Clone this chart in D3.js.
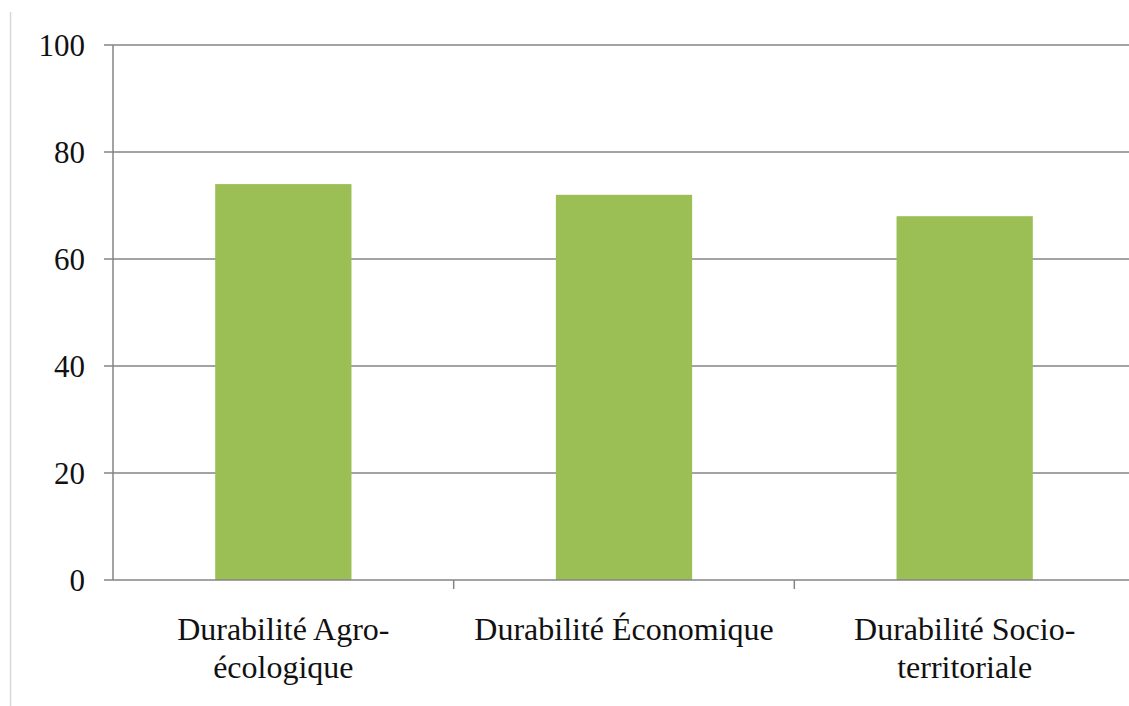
<!DOCTYPE html>
<html>
<head>
<meta charset="utf-8">
<script src="https://cdn.jsdelivr.net/npm/d3@7"></script>
<style>
  body { margin: 0; background: #fff; }
  svg { display: block; }
  svg text { font-family: "Times New Roman", "Liberation Serif", Times, "DejaVu Serif", serif; fill: #111; }
</style>
</head>
<body>
<div id="chart"></div>
<script>
// data
var categories = [["Durabilité Agro-", "écologique"], ["Durabilité Économique"], ["Durabilité Socio-", "territoriale"]];
var values = [74, 72, 68];
var yTicks = [0, 20, 40, 60, 80, 100];

var width = 1129,
    height = 706,
    plotLeft = 113,
    plotRight = 1135,
    plotTop = 45,
    plotBottom = 580;

var svg = d3.select("#chart").append("svg")
    .attr("width", width)
    .attr("height", height);

// page border line on the left
svg.append("line")
    .attr("x1", 10.5).attr("x2", 10.5)
    .attr("y1", 12).attr("y2", height)
    .style("stroke", "#d8d8d8")
    .style("stroke-width", 1.5);

var x = d3.scaleBand()
    .domain(d3.range(categories.length))
    .range([plotLeft, plotRight])
    .padding(0);

var y = d3.scaleLinear()
    .domain([0, 100])
    .range([plotBottom, plotTop]);

// gridlines
svg.append("g")
    .selectAll("line")
    .data(yTicks.filter(function (d) { return d > 0; }))
    .enter()
    .append("line")
    .attr("x1", plotLeft - 9)
    .attr("x2", width)
    .attr("y1", function (d) { return y(d); })
    .attr("y2", function (d) { return y(d); })
    .style("stroke", "#858585")
    .style("stroke-width", 1.5);

// bars
var bw = x.bandwidth();
svg.append("g")
    .selectAll("rect")
    .data(values)
    .enter()
    .append("rect")
    .attr("x", function (d, i) { return x(i) + bw * 0.3; })
    .attr("width", bw * 0.4)
    .attr("y", function (d) { return y(d); })
    .attr("height", function (d) { return y(0) - y(d); })
    .style("fill", "#9bbf55");

// y axis line
svg.append("line")
    .attr("x1", plotLeft).attr("x2", plotLeft)
    .attr("y1", plotTop).attr("y2", plotBottom)
    .style("stroke", "#858585")
    .style("stroke-width", 1.5);

// x axis line
svg.append("line")
    .attr("x1", plotLeft - 9).attr("x2", width)
    .attr("y1", plotBottom).attr("y2", plotBottom)
    .style("stroke", "#858585")
    .style("stroke-width", 1.5);

// x ticks between categories
svg.append("g")
    .selectAll("line")
    .data(d3.range(1, categories.length))
    .enter()
    .append("line")
    .attr("x1", function (d) { return x(d); })
    .attr("x2", function (d) { return x(d); })
    .attr("y1", plotBottom)
    .attr("y2", plotBottom + 9)
    .style("stroke", "#858585")
    .style("stroke-width", 1.5);

// y tick labels
svg.append("g")
    .selectAll("text")
    .data(yTicks)
    .enter()
    .append("text")
    .attr("x", 85)
    .attr("y", function (d) { return y(d); })
    .attr("dy", "0.35em")
    .attr("text-anchor", "end")
    .style("font-size", "31px")
    .text(function (d) { return d; });

// category labels
var lab = svg.append("g")
    .selectAll("text")
    .data(categories)
    .enter()
    .append("text")
    .attr("text-anchor", "middle")
    .style("font-size", "32px");

lab.each(function (lines, i) {
    var t = d3.select(this);
    lines.forEach(function (s, j) {
        t.append("tspan")
            .attr("x", x(i) + bw / 2)
            .attr("y", 640 + j * 38)
            .text(s);
    });
});
</script>
</body>
</html>
